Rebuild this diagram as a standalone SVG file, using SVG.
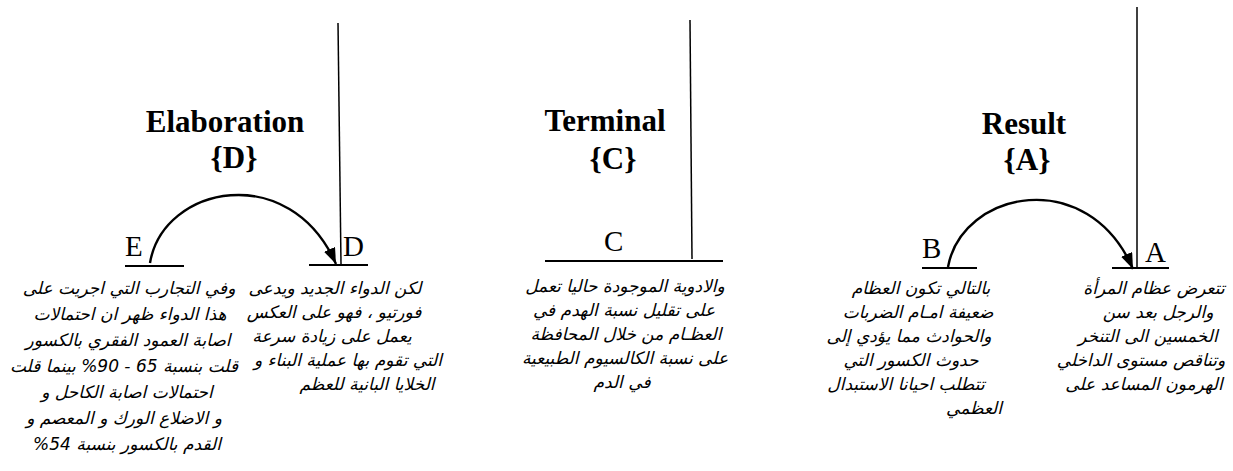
<svg xmlns="http://www.w3.org/2000/svg" width="1233" height="471" viewBox="0 0 1233 471">
  <defs>
    <marker id="arrow" markerUnits="userSpaceOnUse" markerWidth="18" markerHeight="14" refX="16" refY="6" orient="auto">
      <path d="M0,0 L16,6 L0,12 Z" fill="#000"/>
    </marker>
    <style>
      .rel { font-family: "Liberation Serif", serif; font-weight: bold; font-size: 31px; text-anchor: middle; fill: #000; }
      .lbl { font-family: "Liberation Serif", serif; font-size: 29px; fill: #000; }
      .ar { font-family: "DejaVu Sans", sans-serif; font-style: italic; font-size: 17px; text-anchor: middle; direction: rtl; fill: #000; }
      .base { stroke: #000; stroke-width: 2; fill: none; }
      .stem { stroke: #000; stroke-width: 1.5; fill: none; }
      .arc { stroke: #000; stroke-width: 2.4; fill: none; marker-end: url(#arrow); }
    </style>
  </defs>
  <rect width="1233" height="471" fill="#fff"/>

  <!-- relation names -->
  <g id="rel-elaboration">
    <text class="rel" x="225" y="132">Elaboration</text>
    <text class="rel" x="234" y="168">{D}</text>
  </g>
  <g id="rel-terminal">
    <text class="rel" x="605" y="131">Terminal</text>
    <text class="rel" x="613" y="169">{C}</text>
  </g>
  <g id="rel-result">
    <text class="rel" x="1024" y="134">Result</text>
    <text class="rel" x="1027" y="170">{A}</text>
  </g>

  <!-- connectors: nucleus stems and satellite arcs -->
  <g id="connectors">
    <line class="stem" x1="338" y1="23" x2="341" y2="264"/>
    <line class="stem" x1="690" y1="20" x2="692" y2="259"/>
    <line class="stem" x1="1137" y1="7" x2="1137" y2="268"/>
    <path class="arc" d="M150,263 C163,185 290,160 336,264"/>
    <path class="arc" d="M948,267 C962,190 1088,165 1133,269"/>
  </g>

  <g id="node-E">
    <line class="base" x1="125" y1="266" x2="184" y2="266"/>
    <text class="lbl" x="125" y="256">E</text>
    <text class="ar" x="129" y="294">وفي التجارب التي اجريت على</text>
    <text class="ar" x="130" y="320">هذا الدواء ظهر ان احتمالات</text>
    <text class="ar" x="128" y="346">اصابة العمود الفقري بالكسور</text>
    <text class="ar" x="124" y="372">قلت بنسبة 65 - 90% بينما قلت</text>
    <text class="ar" x="127" y="398">احتمالات اصابة الكاحل و</text>
    <text class="ar" x="124" y="424">و الاضلاع الورك و المعصم و</text>
    <text class="ar" x="127" y="450">القدم بالكسور بنسبة 54%</text>
  </g>

  <g id="node-D">
    <line class="base" x1="309" y1="265" x2="368" y2="265"/>
    <text class="lbl" x="343" y="256">D</text>
    <text class="ar" x="335" y="294">لكن الدواء الجديد ويدعى</text>
    <text class="ar" x="334" y="318">فورتيو ، فهو على العكس</text>
    <text class="ar" x="332" y="342">يعمل على زيادة سرعة</text>
    <text class="ar" x="348" y="366">التي تقوم بها  عملية البناء و</text>
    <text class="ar" x="367" y="390">الخلايا البانية للعظم</text>
  </g>

  <g id="node-C">
    <line class="base" x1="545" y1="261" x2="723" y2="261"/>
    <text class="lbl" x="604" y="251">C</text>
    <text class="ar" x="625" y="292">والادوية الموجودة حاليا تعمل</text>
    <text class="ar" x="624" y="316">على تقليل نسبة الهدم في</text>
    <text class="ar" x="626" y="340">العظـام من خلال المحافظة</text>
    <text class="ar" x="625" y="364">على نسبة الكالسيوم الطبيعية</text>
    <text class="ar" x="622" y="388">في الدم</text>
  </g>

  <g id="node-B">
    <line class="base" x1="922" y1="268" x2="977" y2="268"/>
    <text class="lbl" x="922" y="258">B</text>
    <text class="ar" x="921" y="294">بالتالي تكون العظام</text>
    <text class="ar" x="918" y="318">ضعيفة امـام الضربات</text>
    <text class="ar" x="909" y="342">والحوادث مما يؤدي إلى</text>
    <text class="ar" x="911" y="366">حدوث الكسور التي</text>
    <text class="ar" x="906" y="390">تتطلب احيانا الاستبدال</text>
    <text class="ar" x="974" y="414">العظمي</text>
  </g>

  <g id="node-A">
    <line class="base" x1="1112" y1="268" x2="1169" y2="268"/>
    <text class="lbl" x="1145" y="262">A</text>
    <text class="ar" x="1154" y="294">تتعرض عظام المرأة</text>
    <text class="ar" x="1158" y="318">والرجل بعد سن</text>
    <text class="ar" x="1148" y="342">الخمسين الى التنخر</text>
    <text class="ar" x="1141" y="366">وتناقص مستوى  الداخلي</text>
    <text class="ar" x="1144" y="390">الهرمون المساعد على</text>
  </g>
</svg>
